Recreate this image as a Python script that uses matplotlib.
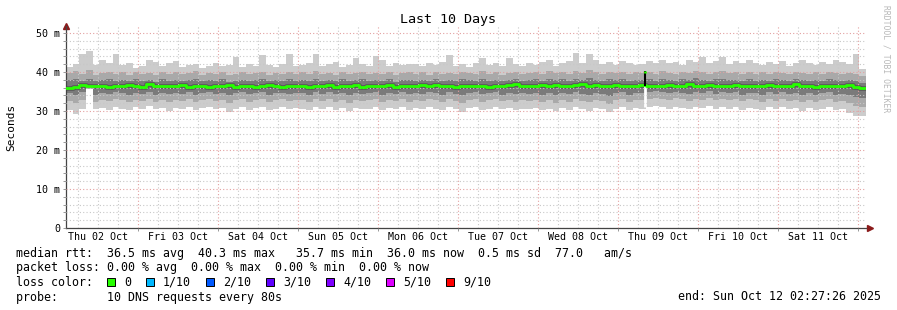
import datetime as dt
import numpy as np
import matplotlib
matplotlib.use("Agg")
from matplotlib import pyplot as plt
import matplotlib.dates as mdates
from matplotlib.ticker import MultipleLocator, FuncFormatter
from matplotlib.patches import Rectangle

plt.rcParams['font.family'] = ['DejaVu Sans Mono']

# 10 days of smokeping data, one column every 2 hours (ms)
start = dt.datetime(2025, 10, 2, 2, 27, 26)
end = dt.datetime(2025, 10, 12, 2, 27, 26)
step_hours = 2

rtt_max = [41.4, 42.0, 44.5, 45.5, 41.8, 43.0, 42.3, 44.6, 41.8, 42.2, 41.0, 41.5, 43.0, 42.5, 41.5, 42.2, 42.8,
           41.2, 41.8, 42.0, 41.0, 41.6, 42.3, 41.5, 41.9, 43.9, 41.4, 42.0, 41.6, 44.3, 41.8, 41.2, 42.0, 44.7, 41.5,
           41.8, 42.2, 44.7, 41.5, 42.0, 42.5, 41.3, 41.8, 43.5, 42.0, 41.6, 44.2, 43.0, 41.5, 42.3, 41.8, 42.0,
           42.0, 41.5, 42.3, 41.8, 42.5, 44.3, 41.6, 42.0, 41.4, 42.2, 43.6, 41.8, 42.4, 41.6, 43.5, 42.0, 41.5,
           42.3, 41.8, 42.5, 43.0, 41.6, 42.4, 42.8, 45.0, 42.2, 44.7, 43.2, 42.0, 42.6, 41.8, 42.9, 42.2, 41.9,
           42.0, 42.8, 42.2, 43.0, 42.4, 42.6, 41.9, 43.2, 42.5, 43.9, 42.2, 42.8, 43.9, 42.1, 42.7, 42.4, 43.0,
           42.3, 41.8, 42.6, 42.0, 42.8, 41.6, 42.4, 43.0, 42.2, 41.8, 42.5, 42.0, 43.2, 42.6, 42.0, 44.6, 40.8]

rtt_p9 = [39.8, 40.2, 39.6, 40.4, 39.2, 39.7, 40.0, 39.4, 39.9, 39.3, 40.1, 39.6, 39.8, 39.2, 40.0, 39.5, 39.9,
          39.4, 39.8, 40.2, 39.3, 39.7, 39.5, 40.0, 39.2, 39.6, 39.9, 39.4, 39.8, 40.1, 39.3, 39.7, 39.5, 40.0, 39.6,
          39.9, 39.4, 40.2, 39.6, 39.8, 39.3, 40.0, 39.5, 39.7, 40.1, 39.4, 39.8, 39.6, 40.0, 39.3, 39.7, 39.9,
          39.5, 39.9, 39.3, 40.1, 39.6, 39.8, 39.4, 40.0, 39.7, 39.5, 40.2, 39.6, 39.9, 39.3, 39.8, 40.0, 39.5,
          39.8, 40.1, 39.6, 40.3, 39.7, 40.0, 39.5, 40.2, 39.8, 40.4, 39.9, 39.6, 40.1, 39.7, 40.0, 39.5, 39.9,
          39.7, 40.0, 39.6, 40.2, 39.8, 39.5, 40.1, 39.7, 40.3, 39.9, 39.6, 40.0, 40.2, 39.7, 39.9, 39.5, 40.1,
          39.6, 39.9, 39.4, 40.0, 39.7, 39.5, 40.1, 39.8, 39.4, 39.9, 39.6, 40.0, 39.7, 39.5, 39.8, 39.4, 38.9]

rtt_p7 = [37.9, 38.2, 37.8, 38.3, 37.6, 37.9, 38.1, 37.7, 38.0, 37.6, 38.2, 37.8, 38.0, 37.5, 38.1, 37.7, 38.0,
          37.7, 38.0, 38.2, 37.6, 37.9, 37.8, 38.1, 37.5, 37.8, 38.0, 37.7, 37.9, 38.2, 37.6, 37.9, 37.7, 38.1, 37.8,
          38.0, 37.7, 38.3, 37.8, 38.0, 37.6, 38.1, 37.7, 37.9, 38.2, 37.6, 37.9, 37.8, 38.1, 37.5, 37.9, 38.0,
          37.7, 38.0, 37.6, 38.2, 37.8, 38.0, 37.6, 38.1, 37.9, 37.7, 38.3, 37.8, 38.0, 37.6, 37.9, 38.1, 37.7,
          37.9, 38.2, 37.8, 38.3, 37.9, 38.1, 37.7, 38.2, 37.9, 38.4, 38.0, 37.8, 38.2, 37.9, 38.1, 37.7, 38.0,
          38.0, 38.2, 37.8, 38.3, 38.0, 37.7, 38.2, 37.9, 38.4, 38.0, 37.8, 38.1, 38.3, 37.9, 38.0, 37.7, 38.2,
          37.8, 38.0, 37.6, 38.1, 37.9, 37.7, 38.2, 37.9, 37.6, 38.0, 37.8, 38.1, 37.9, 37.7, 38.0, 37.6, 37.3]

rtt_median = [36.0, 36.2, 36.7, 36.4, 36.3, 36.5, 36.2, 36.4, 36.3, 36.6, 36.3, 36.2, 36.8, 36.4, 36.5, 36.3, 36.4,
              36.6, 36.2, 36.3, 36.5, 36.2, 36.4, 36.3, 36.6, 36.1, 36.3, 36.5, 36.2, 36.4, 36.6, 36.3, 36.2, 36.5, 36.3,
              36.4, 36.2, 36.5, 36.3, 36.7, 36.2, 36.4, 36.3, 36.6, 36.2, 36.5, 36.4, 36.3, 36.6, 36.2, 36.4, 36.5,
              36.3, 36.6, 36.4, 36.7, 36.3, 36.5, 36.2, 36.4, 36.3, 36.5, 36.4, 36.2, 36.4, 36.3, 36.6, 36.8, 36.4,
              36.5, 36.3, 36.6, 36.4, 36.7, 36.5, 36.3, 36.6, 36.8, 36.4, 36.6, 36.3, 36.5, 36.7, 36.4, 36.5, 36.3,
              36.6, 36.4, 36.5, 36.3, 36.6, 36.4, 36.5, 36.9, 36.5, 36.3, 36.6, 36.4, 36.5, 36.3, 36.6, 36.4, 36.5,
              36.3, 36.5, 36.6, 36.4, 36.3, 36.5, 36.8, 36.4, 36.3, 36.2, 36.5, 36.4, 36.3, 36.4, 36.6, 36.2, 35.9]

rtt_p4 = [34.5, 34.2, 34.8, 36.4, 34.0, 34.6, 34.3, 34.9, 34.5, 34.1, 34.7, 34.4, 34.8, 34.2, 34.6, 34.3, 34.7,
          34.4, 34.8, 34.2, 34.6, 34.9, 34.3, 34.7, 34.1, 34.5, 34.8, 34.3, 34.6, 34.9, 34.2, 34.5, 34.7, 34.3, 34.6,
          34.5, 34.2, 34.8, 34.4, 34.9, 34.3, 34.6, 34.0, 34.7, 34.4, 34.5, 34.8, 34.2, 34.6, 34.4, 34.8, 34.3,
          34.7, 34.3, 34.9, 34.5, 34.1, 34.8, 34.4, 34.0, 34.6, 34.9, 34.3, 34.5, 34.8, 34.2, 34.7, 34.4, 34.6,
          34.4, 34.7, 34.2, 34.6, 34.0, 34.5, 34.3, 34.8, 34.4, 34.1, 34.7, 34.3, 33.9, 34.5, 34.8, 34.2, 34.6,
          34.7, 34.9, 35.1, 34.8, 34.5, 35.0, 34.7, 34.3, 34.9, 34.6, 35.1, 34.4, 34.8, 34.5, 34.9, 34.2, 34.7,
          34.5, 34.2, 34.8, 34.4, 34.9, 34.3, 34.6, 34.1, 34.7, 34.2, 34.5, 34.8, 34.1, 34.4, 34.0, 33.6, 33.4]

rtt_p2 = [32.6, 32.0, 32.9, 36.4, 32.2, 32.8, 32.5, 33.1, 32.7, 32.3, 32.9, 32.6, 33.0, 32.4, 32.8, 32.2, 32.9,
          32.6, 33.0, 32.3, 32.8, 33.1, 32.5, 32.9, 32.1, 32.7, 33.0, 32.4, 32.8, 33.1, 32.3, 32.7, 33.0, 32.5, 32.9,
          32.7, 32.3, 33.0, 32.6, 33.2, 32.4, 32.8, 32.0, 32.9, 32.5, 32.7, 33.0, 32.3, 32.8, 32.6, 33.0, 32.4,
          32.9, 32.5, 33.1, 32.7, 32.2, 33.0, 32.6, 32.0, 32.8, 33.1, 32.4, 32.7, 33.0, 32.5, 32.9, 32.3, 32.8,
          32.5, 32.9, 32.3, 32.8, 32.0, 32.7, 32.4, 33.0, 32.6, 32.2, 32.9, 32.5, 31.9, 32.7, 33.0, 32.4, 32.8,
          32.8, 33.1, 33.4, 33.2, 32.8, 33.3, 33.0, 32.6, 33.2, 32.9, 33.4, 32.7, 33.1, 32.8, 33.2, 32.5, 33.0,
          32.7, 32.3, 33.0, 32.6, 33.1, 32.5, 32.8, 32.2, 32.9, 32.4, 32.7, 33.0, 32.3, 32.6, 32.1, 31.4, 31.0]

rtt_min = [30.2, 29.2, 30.5, 36.4, 30.4, 30.8, 30.3, 31.0, 30.6, 30.2, 30.9, 30.5, 31.2, 30.4, 30.7, 30.1, 30.8,
           30.5, 30.9, 30.2, 30.7, 31.0, 30.4, 30.8, 29.8, 30.6, 31.1, 30.3, 30.7, 30.9, 30.2, 30.6, 31.0, 30.4, 30.8,
           30.6, 30.2, 30.9, 30.5, 31.1, 30.3, 30.7, 29.9, 30.8, 30.4, 30.6, 31.0, 30.2, 30.7, 30.5, 30.9, 30.3,
           30.8, 30.4, 31.0, 30.6, 30.2, 30.9, 30.5, 29.8, 30.7, 31.1, 30.3, 30.6, 30.9, 30.4, 30.8, 30.2, 30.6,
           30.4, 30.8, 30.2, 30.6, 29.9, 30.7, 30.3, 31.0, 30.5, 30.1, 30.8, 30.4, 29.7, 30.6, 30.9, 30.3, 30.7,
           30.5, 30.9, 31.2, 31.0, 30.6, 31.1, 30.8, 30.4, 31.0, 30.7, 31.2, 30.5, 30.9, 30.6, 31.0, 30.3, 30.8,
           30.6, 30.2, 30.9, 30.5, 31.0, 30.4, 30.7, 30.1, 30.8, 30.3, 30.6, 30.9, 30.2, 30.5, 29.6, 28.8, 28.6]

# single short outlier (hours after start, median / bottom of gap)
spike_hours = [173.6]
spike_median = [40.3]
spike_base = [36.4]
spike_gap_low = [31.0]

loss_labels = ['0', '1/10', '2/10', '3/10', '4/10', '5/10', '9/10']
loss_colors = ['#26ff00', '#00b8ff', '#0059ff', '#5e00ff', '#7e00ff', '#dd00ff', '#ff0000']

W, H = 897, 310
fig = plt.figure(figsize=(W / 100, H / 100), dpi=100)
fig.patch.set_facecolor('white')
ax = fig.add_axes([66 / W, (H - 228) / H, 800 / W, 202 / H])

n = len(rtt_median)
edges = [mdates.date2num(start + dt.timedelta(hours=step_hours * i)) for i in range(n + 1)]

def ext(a):
    return np.append(a, a[-1])

smoke = [(rtt_min, rtt_max, '#cccccc'),
         (rtt_p2, rtt_p9, '#a9a9a9'),
         (rtt_p4, rtt_p7, '#7a7a7a')]
for lo, hi, c in smoke:
    ax.fill_between(edges, ext(lo), ext(hi), step='post', color=c, lw=0, zorder=1)

ax.step(edges, ext(rtt_median), where='post', color='#3a3a3a', lw=3.4, alpha=0.5, zorder=2)
ax.step(edges, ext(rtt_median), where='post', color='#26ff00', lw=2.0, zorder=3)

for h, m, b, g in zip(spike_hours, spike_median, spike_base, spike_gap_low):
    t = mdates.date2num(start + dt.timedelta(hours=h))
    ax.vlines(t, g, b, color='white', lw=2, zorder=2)
    ax.vlines(t, b, m, color='black', lw=1.5, zorder=3)
    ax.vlines(t, m - 0.5, m, color='#26ff00', lw=2, zorder=4)

ax.set_xlim(mdates.date2num(start), mdates.date2num(end))
ax.set_ylim(0, 202 / 3.9)

ax.xaxis.set_major_locator(mdates.DayLocator())
ax.xaxis.set_major_formatter(FuncFormatter(lambda v, p: ''))
ax.xaxis.set_minor_locator(mdates.HourLocator(byhour=[0, 6, 12, 18]))
def day_label(v, p):
    d = mdates.num2date(v)
    return d.strftime('%a %d %b') if d.hour == 12 else ''
ax.xaxis.set_minor_formatter(FuncFormatter(day_label))

ax.yaxis.set_major_locator(MultipleLocator(10))
ax.yaxis.set_minor_locator(MultipleLocator(2))
ax.yaxis.set_major_formatter(FuncFormatter(lambda v, p: '0' if v == 0 else f'{v:.0f} m'))

ax.grid(which='minor', color='#c8c8c8', linestyle=(0, (1, 2)), lw=0.8)
ax.grid(which='major', color='#e3a0a0', linestyle=(0, (1, 2)), lw=0.8)
ax.set_axisbelow(False)

ax.tick_params(axis='both', which='both', labelsize=7.2, color='#888888', length=2, width=0.6, pad=2)
ax.tick_params(axis='x', which='minor', length=0, pad=3)
for lab in ax.get_xticklabels(minor=True):
    lab.set_fontsize(7.2)

for s in ['top', 'right']:
    ax.spines[s].set_visible(False)
for s in ['left', 'bottom']:
    ax.spines[s].set_color('#444444')
    ax.spines[s].set_linewidth(0.9)

ax.plot([0], [1.0], marker='^', ms=4, color='#8b1a1a', transform=ax.transAxes, clip_on=False)
ax.plot([1.005], [0], marker='>', ms=4, color='#8b1a1a', transform=ax.transAxes, clip_on=False)

def fx(x):
    return x / W

def fy(y):
    return 1 - y / H

fig.text(fx(448), fy(20), 'Last 10 Days', ha='center', va='center', fontsize=9.6)
fig.text(fx(11), fy(127), 'Seconds', ha='center', va='center', rotation=90, fontsize=8)
fig.text(fx(886), fy(5), 'RRDTOOL / TOBI OETIKER', ha='center', va='top', rotation=270,
         fontsize=5.8, color='#b8b8b8')

fs = 8.38
fig.text(fx(16), fy(254), 'median rtt:  36.5 ms avg  40.3 ms max   35.7 ms min  36.0 ms now  0.5 ms sd  77.0   am/s',
         ha='left', va='center', fontsize=fs)
fig.text(fx(16), fy(268), 'packet loss: 0.00 % avg  0.00 % max  0.00 % min  0.00 % now',
         ha='left', va='center', fontsize=fs)
fig.text(fx(16), fy(282), 'loss color:', ha='left', va='center', fontsize=fs)
fig.text(fx(16), fy(297), 'probe:       10 DNS requests every 80s', ha='left', va='center', fontsize=fs)
fig.text(fx(881), fy(297), 'end: Sun Oct 12 02:27:26 2025', ha='right', va='center', fontsize=fs)

bx = 107
for lab, c in zip(loss_labels, loss_colors):
    fig.add_artist(Rectangle((fx(bx), fy(286)), 8 / W, 8 / H, transform=fig.transFigure,
                             facecolor=c, edgecolor='black', lw=0.7))
    tx = bx + 17
    fig.text(fx(tx), fy(282), lab, ha='left', va='center', fontsize=fs)
    bx = tx + len(lab) * 7.0 + 15

fig.savefig('out.png', dpi=100)
